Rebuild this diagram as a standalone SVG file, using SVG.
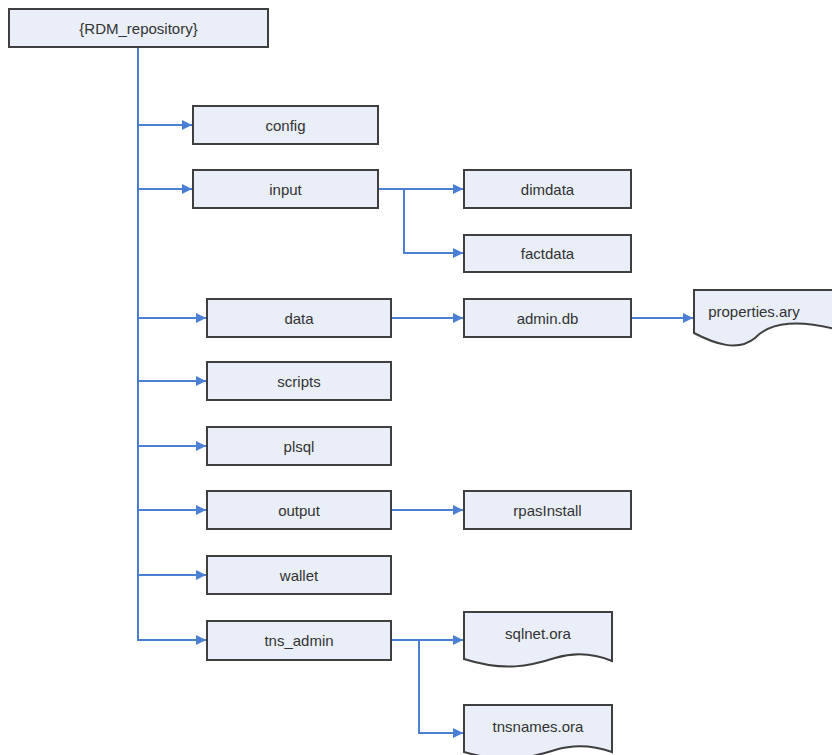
<svg xmlns="http://www.w3.org/2000/svg" width="832" height="755" viewBox="0 0 832 755">
<defs>
<style>
.box{fill:#e9eef8;stroke:#3f3f3f;stroke-width:2}
.t{font-family:"Liberation Sans",Arial,sans-serif;font-size:15px;fill:#333;text-anchor:middle;dominant-baseline:central}
.c{fill:none;stroke:#4a7fd4;stroke-width:2}
</style>
<marker id="ah" viewBox="0 0 10 10" refX="10" refY="5" markerWidth="10" markerHeight="10" markerUnits="userSpaceOnUse" orient="auto">
<path d="M0,0 L10,5 L0,10 z" fill="#4a7fd4"/>
</marker>
</defs>
<rect width="832" height="755" fill="#fff"/>
<g id="connectors">
<path class="c" d="M138,47 V640"/>
<path class="c" d="M138,125 H192" marker-end="url(#ah)"/>
<path class="c" d="M138,189 H192" marker-end="url(#ah)"/>
<path class="c" d="M138,318 H206" marker-end="url(#ah)"/>
<path class="c" d="M138,381 H206" marker-end="url(#ah)"/>
<path class="c" d="M138,446 H206" marker-end="url(#ah)"/>
<path class="c" d="M138,510 H206" marker-end="url(#ah)"/>
<path class="c" d="M138,575 H206" marker-end="url(#ah)"/>
<path class="c" d="M137,640 H206" marker-end="url(#ah)"/>
<path class="c" d="M378,189 H463" marker-end="url(#ah)"/>
<path class="c" d="M404,189 V253 H463" marker-end="url(#ah)"/>
<path class="c" d="M391,318 H463" marker-end="url(#ah)"/>
<path class="c" d="M631,318 H693" marker-end="url(#ah)"/>
<path class="c" d="M391,510 H463" marker-end="url(#ah)"/>
<path class="c" d="M391,640 H463" marker-end="url(#ah)"/>
<path class="c" d="M419,640 V733 H463" marker-end="url(#ah)"/>
</g>
<g id="root"><rect class="box" x="9" y="9" width="259" height="38"/><text class="t" x="138.5" y="28">{RDM_repository}</text></g>
<g id="config"><rect class="box" x="193" y="106" width="185" height="38"/><text class="t" x="285.5" y="125">config</text></g>
<g id="input"><rect class="box" x="193" y="170" width="185" height="38"/><text class="t" x="285.5" y="189">input</text></g>
<g id="dimdata"><rect class="box" x="464" y="170" width="167" height="38"/><text class="t" x="547.5" y="189">dimdata</text></g>
<g id="factdata"><rect class="box" x="464" y="235" width="167" height="37"/><text class="t" x="547.5" y="253.5">factdata</text></g>
<g id="data"><rect class="box" x="207" y="299" width="184" height="38"/><text class="t" x="299" y="318">data</text></g>
<g id="admindb"><rect class="box" x="464" y="299" width="167" height="38"/><text class="t" x="547.5" y="318">admin.db</text></g>
<g id="properties"><path class="box" d="M694,290 H845 V332 C800,318 770,322 755,338 C738,352 715,344 694,333 Z"/><text class="t" x="754" y="311">properties.ary</text></g>
<g id="scripts"><rect class="box" x="207" y="362" width="184" height="38"/><text class="t" x="299" y="381">scripts</text></g>
<g id="plsql"><rect class="box" x="207" y="427" width="184" height="38"/><text class="t" x="299" y="446">plsql</text></g>
<g id="output"><rect class="box" x="207" y="491" width="184" height="38"/><text class="t" x="299" y="510">output</text></g>
<g id="rpasInstall"><rect class="box" x="464" y="491" width="167" height="38"/><text class="t" x="547.5" y="510">rpasInstall</text></g>
<g id="wallet"><rect class="box" x="207" y="556" width="184" height="38"/><text class="t" x="299" y="575">wallet</text></g>
<g id="tns_admin"><rect class="box" x="207" y="621" width="184" height="39"/><text class="t" x="299" y="640">tns_admin</text></g>
<g id="sqlnet"><path class="box" d="M464,612 H612 V661 C595,654 575,652 555,658 C530,666 505,672 464,659 Z"/><text class="t" x="538" y="633">sqlnet.ora</text></g>
<g id="tnsnames"><path class="box" d="M464,705 H612 V752 C595,746 575,744 555,750 C530,758 505,764 464,752 Z"/><text class="t" x="538" y="726">tnsnames.ora</text></g>
</svg>
